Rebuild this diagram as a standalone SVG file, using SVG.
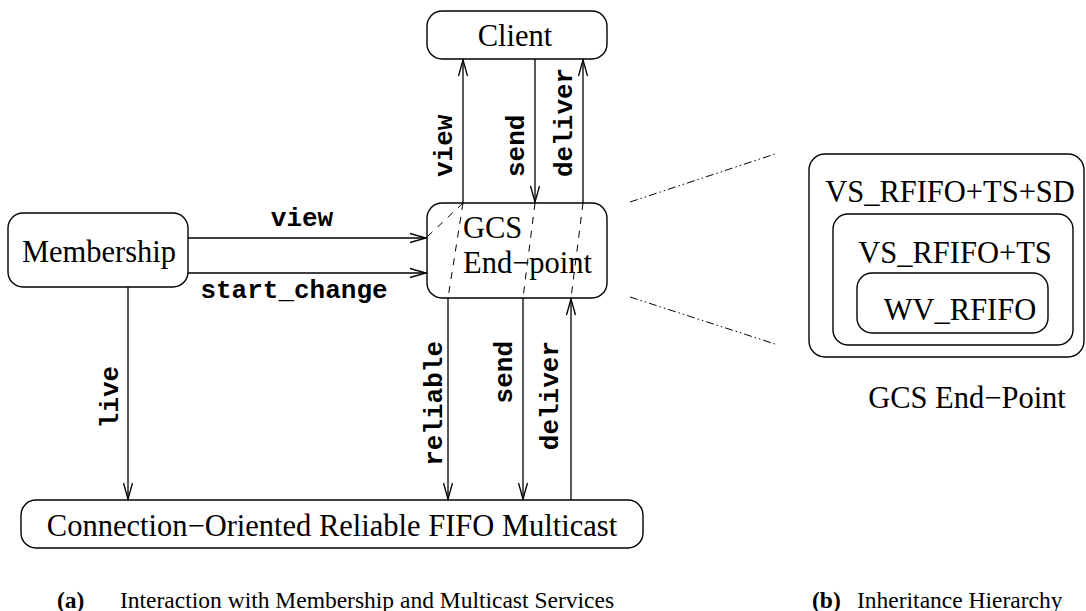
<svg xmlns="http://www.w3.org/2000/svg" width="1086" height="611" viewBox="0 0 1086 611">
  <style>
    .box { fill: #ffffff; stroke: #000000; stroke-width: 1.4; }
    .name { font-family: "Liberation Serif", "Times New Roman", serif; font-size: 30.5px; fill: #000000; }
    .op { font-family: "Liberation Mono", "Courier New", monospace; font-weight: bold; font-size: 26px; fill: #000000; }
    .wire { stroke: #000000; stroke-width: 1.3; fill: none; }
    .arrow { marker-end: url(#open); }
    .seam { stroke: #000000; stroke-width: 1; stroke-dasharray: 7 7; fill: none; }
    .zoomline { stroke: #000000; stroke-width: 1; stroke-dasharray: 8 3 1.5 3 1.5 3; fill: none; }
    .cap { font-family: "Liberation Serif", "Times New Roman", serif; font-size: 23.5px; fill: #000000; }
    .capb { font-weight: bold; }
  </style>
  <defs>
    <marker id="open" markerUnits="userSpaceOnUse" viewBox="-18 -6 20 12" refX="0" refY="0" markerWidth="20" markerHeight="12" orient="auto" overflow="visible">
      <path d="M -16 -4.5 L 0 0 L -16 4.5" fill="none" stroke="#000000" stroke-width="1.3"/>
    </marker>
  </defs>

  <rect width="1086" height="611" fill="#ffffff"/>

  <!-- (a) service interaction -->
  <g id="client">
    <rect class="box" x="427" y="11" width="180" height="48" rx="15" ry="15"/>
    <text class="name" x="515" y="46" text-anchor="middle">Client</text>
  </g>

  <g id="membership">
    <rect class="box" x="8" y="213" width="180" height="74" rx="15" ry="15"/>
    <text class="name" x="99" y="262" text-anchor="middle">Membership</text>
  </g>

  <g id="gcs-endpoint">
    <rect class="box" x="427" y="203" width="180" height="95" rx="15" ry="15"/>
    <text class="name" x="463" y="238">GCS</text>
    <text class="name" x="463" y="273">End−point</text>
  </g>

  <g id="multicast">
    <rect class="box" x="21" y="500" width="622" height="48" rx="15" ry="15"/>
    <text class="name" x="332" y="536" text-anchor="middle">Connection−Oriented Reliable FIFO Multicast</text>
  </g>

  <g id="connectors">
    <!-- endpoint <-> client -->
    <line class="wire arrow" x1="463" y1="203" x2="463" y2="60"/>
    <line class="wire arrow" x1="535" y1="59" x2="535" y2="202"/>
    <line class="wire arrow" x1="583" y1="203" x2="583" y2="60"/>
    <!-- membership -> endpoint -->
    <line class="wire arrow" x1="188" y1="238" x2="426" y2="238"/>
    <line class="wire arrow" x1="188" y1="273" x2="426" y2="273"/>
    <!-- membership -> multicast -->
    <line class="wire arrow" x1="128" y1="287" x2="128" y2="499"/>
    <!-- endpoint <-> multicast -->
    <line class="wire arrow" x1="448" y1="298" x2="448" y2="499"/>
    <line class="wire arrow" x1="523" y1="298" x2="523" y2="499"/>
    <line class="wire arrow" x1="571" y1="500" x2="571" y2="299"/>

    <!-- paths through the end-point -->
    <line class="seam" x1="463" y1="203" x2="427" y2="237"/>
    <line class="seam" x1="463" y1="203" x2="448" y2="298"/>
    <line class="seam" x1="535" y1="203" x2="523" y2="298"/>
    <line class="seam" x1="583" y1="203" x2="571" y2="298"/>

    <!-- operation labels -->
    <text class="op" transform="translate(452,177) rotate(-90)">view</text>
    <text class="op" transform="translate(524,177) rotate(-90)">send</text>
    <text class="op" transform="translate(572,177) rotate(-90)">deliver</text>
    <text class="op" x="302" y="226" text-anchor="middle">view</text>
    <text class="op" x="294" y="298" text-anchor="middle">start_change</text>
    <text class="op" transform="translate(118,397) rotate(-90)" text-anchor="middle">live</text>
    <text class="op" transform="translate(442,341) rotate(-90)" text-anchor="end">reliable</text>
    <text class="op" transform="translate(512,341) rotate(-90)" text-anchor="end">send</text>
    <text class="op" transform="translate(558,341) rotate(-90)" text-anchor="end">deliver</text>

    <!-- expansion of the end-point -->
    <line class="zoomline" x1="630" y1="202" x2="775" y2="154"/>
    <line class="zoomline" x1="630" y1="297" x2="775" y2="344"/>
  </g>

  <!-- (b) inheritance hierarchy -->
  <g id="vs-rfifo-ts-sd">
    <rect class="box" x="809" y="154" width="275" height="203" rx="16" ry="16"/>
    <text class="name" x="950" y="202" text-anchor="middle">VS_RFIFO+TS+SD</text>
  </g>
  <g id="vs-rfifo-ts">
    <rect class="box" x="833" y="214" width="240" height="131" rx="15" ry="15"/>
    <text class="name" x="955" y="263" text-anchor="middle">VS_RFIFO+TS</text>
  </g>
  <g id="wv-rfifo">
    <rect class="box" x="857" y="273" width="191" height="60" rx="15" ry="15"/>
    <text class="name" x="960" y="320" text-anchor="middle">WV_RFIFO</text>
  </g>
  <text class="name" x="967" y="408" text-anchor="middle">GCS End−Point</text>

  <!-- captions -->
  <text class="cap capb" x="57" y="608">(a)</text>
  <text class="cap" x="120" y="608">Interaction with Membership and Multicast Services</text>
  <text class="cap capb" x="812" y="608">(b)</text>
  <text class="cap" x="857" y="608">Inheritance Hierarchy</text>
</svg>
